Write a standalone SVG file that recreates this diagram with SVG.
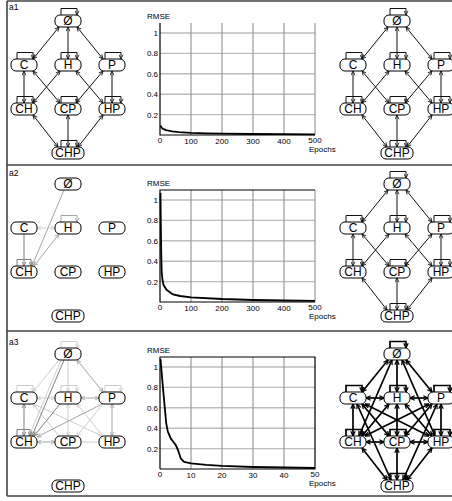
<svg xmlns="http://www.w3.org/2000/svg" width="452" height="501" viewBox="0 0 452 501">
<style>
.fr{fill:none;stroke:#444;stroke-width:1.6}
path.e{fill:none;stroke-width:1}
.k1,.k2{stroke:#111;marker-end:url(#mk)} .k2{marker-start:url(#mk)}
path.K1,path.K2{stroke:#000;stroke-width:1.7;marker-end:url(#mK)} .K2{marker-start:url(#mK)}
.a1,.a2{stroke:#808080;marker-end:url(#ma)} .a2{marker-start:url(#ma)}
.b1,.b2{stroke:#a4a4a4;marker-end:url(#mb)} .b2{marker-start:url(#mb)}
.c0,.c1,.c2{stroke:#cdcdcd} .c1,.c2{marker-end:url(#mc)} .c2{marker-start:url(#mc)}
.n rect{fill:#fff;stroke:#000;stroke-width:1}
.n text{font-family:"Liberation Sans",Arial,sans-serif;font-size:12px;text-anchor:middle;fill:#000}
.lbl{font-family:"Liberation Sans",Arial,sans-serif;font-size:8.5px;fill:#000}
.t{font-family:"Liberation Sans",Arial,sans-serif;font-size:8px;fill:#000}
.te{text-anchor:end}.tm{text-anchor:middle}
.gh{fill:none;stroke:#bdbdbd;stroke-width:1.4}
.gv{fill:none;stroke:#9a9a9a;stroke-width:1.2}
.ax{fill:none;stroke:#000;stroke-width:1.2}
.cv{fill:none;stroke:#000;stroke-width:1.8;stroke-linejoin:round}
</style>
<defs>
<marker id="mk" viewBox="0 0 10 10" refX="9.5" refY="5" markerWidth="5" markerHeight="5" markerUnits="userSpaceOnUse" orient="auto-start-reverse"><path d="M1,1 L9.5,5 L1,9" fill="none" stroke="#111" stroke-width="1.7"/></marker>
<marker id="mK" viewBox="0 0 10 10" refX="9.5" refY="5" markerWidth="5.5" markerHeight="5.5" markerUnits="userSpaceOnUse" orient="auto-start-reverse"><path d="M1,1 L9.5,5 L1,9" fill="none" stroke="#000" stroke-width="2.2"/></marker>
<marker id="ma" viewBox="0 0 10 10" refX="9.5" refY="5" markerWidth="5" markerHeight="5" markerUnits="userSpaceOnUse" orient="auto-start-reverse"><path d="M1,1 L9.5,5 L1,9" fill="none" stroke="#808080" stroke-width="1.7"/></marker>
<marker id="mb" viewBox="0 0 10 10" refX="9.5" refY="5" markerWidth="5" markerHeight="5" markerUnits="userSpaceOnUse" orient="auto-start-reverse"><path d="M1,1 L9.5,5 L1,9" fill="none" stroke="#a4a4a4" stroke-width="1.7"/></marker>
<marker id="mc" viewBox="0 0 10 10" refX="9.5" refY="5" markerWidth="5" markerHeight="5" markerUnits="userSpaceOnUse" orient="auto-start-reverse"><path d="M1,1 L9.5,5 L1,9" fill="none" stroke="#cdcdcd" stroke-width="1.7"/></marker>
</defs>
<rect width="452" height="501" fill="#fff"/>
<g id="frame">
<path class="fr" d="M7,1 H452 M7,165 H452 M7,331 H452 M7,496 H452 M7,1 V496"/>
</g>
<text class="lbl" x="9" y="10">a1</text>
<text class="lbl" x="9" y="176">a2</text>
<text class="lbl" x="9" y="345">a3</text>

<!-- ===== a1 left ===== -->
<g id="g1l" transform="translate(68,21)">
<g id="g1l-edges">
<path class="e k2" d="M-9,6 L-35,38"/><path class="e k2" d="M0,6 L0,38"/><path class="e k2" d="M9,6 L35,38"/>
<path class="e k2" d="M-44,50 L-44,82"/><path class="e k2" d="M-35,50 L-8,82"/><path class="e k2" d="M-8,50 L-35,82"/>
<path class="e k2" d="M8,50 L35,82"/><path class="e k2" d="M35,50 L8,82"/><path class="e k2" d="M44,50 L44,82"/>
<path class="e k2" d="M-35,94 L-10,126"/><path class="e k2" d="M0,94 L0,126"/><path class="e k2" d="M35,94 L10,126"/>
<path class="e k1" d="M-7,-6 V-12.5 H9 V-6"/><path class="e k1" d="M-51,38 V31.5 H-35 V38"/><path class="e k1" d="M-7,38 V31.5 H9 V38"/><path class="e k1" d="M37,38 V31.5 H53 V38"/>
<path class="e k1" d="M-51,82 V75.5 H-35 V82"/><path class="e k1" d="M-7,82 V75.5 H9 V82"/><path class="e k1" d="M37,82 V75.5 H53 V82"/><path class="e k1" d="M-7,126 V119.5 H9 V126"/>
</g>
<g id="g1l-0" class="n"><rect x="-13" y="-6" width="26" height="12" rx="5"/><text x="0" y="4.3">Ø</text></g>
<g id="g1l-C" class="n"><rect x="-57" y="38" width="26" height="12" rx="5"/><text x="-44" y="48.3">C</text></g>
<g id="g1l-H" class="n"><rect x="-13" y="38" width="26" height="12" rx="5"/><text x="0" y="48.3">H</text></g>
<g id="g1l-P" class="n"><rect x="31" y="38" width="26" height="12" rx="5"/><text x="44" y="48.3">P</text></g>
<g id="g1l-CH" class="n"><rect x="-57" y="82" width="26" height="12" rx="5"/><text x="-44" y="92.3">CH</text></g>
<g id="g1l-CP" class="n"><rect x="-13" y="82" width="26" height="12" rx="5"/><text x="0" y="92.3">CP</text></g>
<g id="g1l-HP" class="n"><rect x="31" y="82" width="26" height="12" rx="5"/><text x="44" y="92.3">HP</text></g>
<g id="g1l-CHP" class="n"><rect x="-16" y="126" width="32" height="12" rx="5"/><text x="0" y="136.3">CHP</text></g>
</g>

<!-- ===== a1 right ===== -->
<g id="g1r" transform="translate(397,21)">
<g id="g1r-edges">
<path class="e k2" d="M-9,6 L-35,38"/><path class="e k2" d="M0,6 L0,38"/><path class="e k2" d="M9,6 L35,38"/>
<path class="e k2" d="M-44,50 L-44,82"/><path class="e k2" d="M-35,50 L-8,82"/><path class="e k2" d="M-8,50 L-35,82"/>
<path class="e k2" d="M8,50 L35,82"/><path class="e k2" d="M35,50 L8,82"/><path class="e k2" d="M44,50 L44,82"/>
<path class="e k2" d="M-35,94 L-10,126"/><path class="e k2" d="M0,94 L0,126"/><path class="e k2" d="M35,94 L10,126"/>
<path class="e k1" d="M-7,-6 V-12.5 H9 V-6"/><path class="e k1" d="M-51,38 V31.5 H-35 V38"/><path class="e k1" d="M-7,38 V31.5 H9 V38"/><path class="e k1" d="M37,38 V31.5 H53 V38"/>
<path class="e k1" d="M-51,82 V75.5 H-35 V82"/><path class="e k1" d="M-7,82 V75.5 H9 V82"/><path class="e k1" d="M37,82 V75.5 H53 V82"/><path class="e k1" d="M-7,126 V119.5 H9 V126"/>
</g>
<g id="g1r-0" class="n"><rect x="-13" y="-6" width="26" height="12" rx="5"/><text x="0" y="4.3">Ø</text></g>
<g id="g1r-C" class="n"><rect x="-57" y="38" width="26" height="12" rx="5"/><text x="-44" y="48.3">C</text></g>
<g id="g1r-H" class="n"><rect x="-13" y="38" width="26" height="12" rx="5"/><text x="0" y="48.3">H</text></g>
<g id="g1r-P" class="n"><rect x="31" y="38" width="26" height="12" rx="5"/><text x="44" y="48.3">P</text></g>
<g id="g1r-CH" class="n"><rect x="-57" y="82" width="26" height="12" rx="5"/><text x="-44" y="92.3">CH</text></g>
<g id="g1r-CP" class="n"><rect x="-13" y="82" width="26" height="12" rx="5"/><text x="0" y="92.3">CP</text></g>
<g id="g1r-HP" class="n"><rect x="31" y="82" width="26" height="12" rx="5"/><text x="44" y="92.3">HP</text></g>
<g id="g1r-CHP" class="n"><rect x="-16" y="126" width="32" height="12" rx="5"/><text x="0" y="136.3">CHP</text></g>
</g>

<!-- ===== a2 left ===== -->
<g id="g2l" transform="translate(68,184)">
<g id="g2l-edges">
<path class="e b1" d="M-4,6 L-36,82"/>
<path class="e a1" d="M-44,50 L-44,82"/>
<path class="e c2" d="M-31,44 L-13,44"/>
<path class="e b2" d="M-9,50 L-34,82"/>
<path class="e b1" d="M-7,38 V31.5 H9 V38"/>
<path class="e a1" d="M-51,82 V75.5 H-37 V82"/>
</g>
<g id="g2l-0" class="n"><rect x="-13" y="-6" width="26" height="12" rx="5"/><text x="0" y="4.3">Ø</text></g>
<g id="g2l-C" class="n"><rect x="-57" y="38" width="26" height="12" rx="5"/><text x="-44" y="48.3">C</text></g>
<g id="g2l-H" class="n"><rect x="-13" y="38" width="26" height="12" rx="5"/><text x="0" y="48.3">H</text></g>
<g id="g2l-P" class="n"><rect x="31" y="38" width="26" height="12" rx="5"/><text x="44" y="48.3">P</text></g>
<g id="g2l-CH" class="n"><rect x="-57" y="82" width="26" height="12" rx="5"/><text x="-44" y="92.3">CH</text></g>
<g id="g2l-CP" class="n"><rect x="-13" y="82" width="26" height="12" rx="5"/><text x="0" y="92.3">CP</text></g>
<g id="g2l-HP" class="n"><rect x="31" y="82" width="26" height="12" rx="5"/><text x="44" y="92.3">HP</text></g>
<g id="g2l-CHP" class="n"><rect x="-16" y="126" width="32" height="12" rx="5"/><text x="0" y="136.3">CHP</text></g>
</g>

<!-- ===== a2 right ===== -->
<g id="g2r" transform="translate(397,184)">
<g id="g2r-edges">
<path class="e k2" d="M-9,6 L-35,38"/><path class="e k2" d="M0,6 L0,38"/><path class="e k2" d="M9,6 L35,38"/>
<path class="e k2" d="M-44,50 L-44,82"/><path class="e k2" d="M-35,50 L-8,82"/><path class="e k2" d="M-8,50 L-35,82"/>
<path class="e k2" d="M8,50 L35,82"/><path class="e k2" d="M35,50 L8,82"/><path class="e k2" d="M44,50 L44,82"/>
<path class="e k2" d="M-35,94 L-10,126"/><path class="e k2" d="M0,94 L0,126"/><path class="e k2" d="M35,94 L10,126"/>
<path class="e k1" d="M-7,-6 V-12.5 H9 V-6"/><path class="e k1" d="M-51,38 V31.5 H-35 V38"/><path class="e k1" d="M-7,38 V31.5 H9 V38"/><path class="e k1" d="M37,38 V31.5 H53 V38"/>
<path class="e k1" d="M-51,82 V75.5 H-35 V82"/><path class="e k1" d="M-7,82 V75.5 H9 V82"/><path class="e k1" d="M37,82 V75.5 H53 V82"/><path class="e k1" d="M-7,126 V119.5 H9 V126"/>
</g>
<g id="g2r-0" class="n"><rect x="-13" y="-6" width="26" height="12" rx="5"/><text x="0" y="4.3">Ø</text></g>
<g id="g2r-C" class="n"><rect x="-57" y="38" width="26" height="12" rx="5"/><text x="-44" y="48.3">C</text></g>
<g id="g2r-H" class="n"><rect x="-13" y="38" width="26" height="12" rx="5"/><text x="0" y="48.3">H</text></g>
<g id="g2r-P" class="n"><rect x="31" y="38" width="26" height="12" rx="5"/><text x="44" y="48.3">P</text></g>
<g id="g2r-CH" class="n"><rect x="-57" y="82" width="26" height="12" rx="5"/><text x="-44" y="92.3">CH</text></g>
<g id="g2r-CP" class="n"><rect x="-13" y="82" width="26" height="12" rx="5"/><text x="0" y="92.3">CP</text></g>
<g id="g2r-HP" class="n"><rect x="31" y="82" width="26" height="12" rx="5"/><text x="44" y="92.3">HP</text></g>
<g id="g2r-CHP" class="n"><rect x="-16" y="126" width="32" height="12" rx="5"/><text x="0" y="136.3">CHP</text></g>
</g>

<!-- ===== a3 left ===== -->
<g id="g3l" transform="translate(68,354)">
<g id="g3l-edges">
<path class="e c1" d="M-7,-6 V-12.5 H9 V-6"/><path class="e c1" d="M-51,38 V31.5 H-35 V38"/><path class="e c1" d="M-7,38 V31.5 H9 V38"/><path class="e c1" d="M37,38 V31.5 H53 V38"/>
<path class="e c1" d="M-9,6 L-35,38"/>
<path class="e c1" d="M0,6 L0,38"/>
<path class="e c1" d="M-7,6 L-39,82"/>
<path class="e c2" d="M-31,44 L-13,44"/>
<path class="e c2" d="M0,50 L0,82"/>
<path class="e c1" d="M-34,50 L34,82"/>
<path class="e c1" d="M35,82 L9,50"/>
<path class="e c1" d="M35,50 L9,82"/>
<path class="e c1" d="M-9,82 L-35,50"/>
<path class="e c0" d="M13,88 L31,88"/>
<path class="e b2" d="M9,6 L35,38"/>
<path class="e b2" d="M13,44 L31,44"/>
<path class="e b1" d="M34,50 L-31,83"/>
<path class="e b2" d="M44,50 L44,82"/>
<path class="e b2" d="M-31,88 L-13,88"/>
<path class="e a2" d="M-44,50 L-44,82"/>
<path class="e a1" d="M-4,6 L-36,82"/>
<path class="e a1" d="M-8,50 L-34,82"/>
<path class="e a1" d="M-51,82 V75.5 H-38 V82"/>
</g>
<g id="g3l-0" class="n"><rect x="-13" y="-6" width="26" height="12" rx="5"/><text x="0" y="4.3">Ø</text></g>
<g id="g3l-C" class="n"><rect x="-57" y="38" width="26" height="12" rx="5"/><text x="-44" y="48.3">C</text></g>
<g id="g3l-H" class="n"><rect x="-13" y="38" width="26" height="12" rx="5"/><text x="0" y="48.3">H</text></g>
<g id="g3l-P" class="n"><rect x="31" y="38" width="26" height="12" rx="5"/><text x="44" y="48.3">P</text></g>
<g id="g3l-CH" class="n"><rect x="-57" y="82" width="26" height="12" rx="5"/><text x="-44" y="92.3">CH</text></g>
<g id="g3l-CP" class="n"><rect x="-13" y="82" width="26" height="12" rx="5"/><text x="0" y="92.3">CP</text></g>
<g id="g3l-HP" class="n"><rect x="31" y="82" width="26" height="12" rx="5"/><text x="44" y="92.3">HP</text></g>
<g id="g3l-CHP" class="n"><rect x="-16" y="126" width="32" height="12" rx="5"/><text x="0" y="136.3">CHP</text></g>
</g>

<!-- ===== a3 right ===== -->
<g id="g3r" transform="translate(397,354)">
<g id="g3r-edges">
<path class="e K2" d="M-9,6 L-35,38"/><path class="e K2" d="M0,6 L0,38"/><path class="e K2" d="M9,6 L35,38"/>
<path class="e K2" d="M-5,6 L-38,82"/><path class="e K2" d="M5,6 L38,82"/>
<path class="e K2" d="M-31,44 L-13,44"/><path class="e K2" d="M13,44 L31,44"/>
<path class="e K2" d="M-44,50 L-44,82"/><path class="e K2" d="M-35,50 L-8,82"/><path class="e K2" d="M-32,50 L32,82"/>
<path class="e K2" d="M-8,50 L-35,82"/><path class="e K2" d="M0,50 L0,82"/><path class="e K2" d="M8,50 L35,82"/>
<path class="e K2" d="M32,50 L-32,82"/><path class="e K2" d="M35,50 L8,82"/><path class="e K2" d="M44,50 L44,82"/>
<path class="e K2" d="M-31,88 L-13,88"/><path class="e K2" d="M13,88 L31,88"/>
<path class="e K2" d="M-10,126 L-35,94"/><path class="e K2" d="M0,126 L0,94"/><path class="e K2" d="M10,126 L35,94"/>
<path class="e K2" d="M-6,126 L-40,50"/><path class="e K2" d="M6,126 L40,50"/>
<path class="e K1" d="M-7,-6 V-12.5 H9 V-6"/><path class="e K1" d="M-51,38 V31.5 H-35 V38"/><path class="e K1" d="M-7,38 V31.5 H9 V38"/><path class="e K1" d="M37,38 V31.5 H53 V38"/>
<path class="e K1" d="M-51,82 V75.5 H-35 V82"/><path class="e K1" d="M-7,82 V75.5 H9 V82"/><path class="e K1" d="M37,82 V75.5 H53 V82"/><path class="e K1" d="M-7,126 V119.5 H9 V126"/>
</g>
<g id="g3r-0" class="n"><rect x="-13" y="-6" width="26" height="12" rx="5"/><text x="0" y="4.3">Ø</text></g>
<g id="g3r-C" class="n"><rect x="-57" y="38" width="26" height="12" rx="5"/><text x="-44" y="48.3">C</text></g>
<g id="g3r-H" class="n"><rect x="-13" y="38" width="26" height="12" rx="5"/><text x="0" y="48.3">H</text></g>
<g id="g3r-P" class="n"><rect x="31" y="38" width="26" height="12" rx="5"/><text x="44" y="48.3">P</text></g>
<g id="g3r-CH" class="n"><rect x="-57" y="82" width="26" height="12" rx="5"/><text x="-44" y="92.3">CH</text></g>
<g id="g3r-CP" class="n"><rect x="-13" y="82" width="26" height="12" rx="5"/><text x="0" y="92.3">CP</text></g>
<g id="g3r-HP" class="n"><rect x="31" y="82" width="26" height="12" rx="5"/><text x="44" y="92.3">HP</text></g>
<g id="g3r-CHP" class="n"><rect x="-16" y="126" width="32" height="12" rx="5"/><text x="0" y="136.3">CHP</text></g>
</g>

<!-- ===== plots ===== -->
<g id="plot1" transform="translate(160,135)">
<path class="gh" d="M0,-20.4H155M0,-40.8H155M0,-61.2H155M0,-81.6H155M0,-102H155"/>
<path class="gv" d="M31,0V-112M62,0V-112M93,0V-112M124,0V-112M155,0V-112"/>
<path class="ax" d="M0,-112V0H155"/>
<polyline class="cv" points="0.5,-9.5 1.5,-7.4 3,-6.2 6,-4.9 12,-3.6 19,-2.9 31,-2.1 46,-1.6 62,-1.3 93,-1 124,-0.8 155,-0.7"/>
<text class="t" x="-13" y="-116">RMSE</text>
<text class="t te" x="-2" y="-99">1</text><text class="t te" x="-2" y="-78.6">0.8</text><text class="t te" x="-2" y="-58.2">0.6</text><text class="t te" x="-2" y="-37.8">0.4</text><text class="t te" x="-2" y="-17.4">0.2</text>
<text class="t tm" x="0" y="8">0</text><text class="t tm" x="31" y="9">100</text><text class="t tm" x="62" y="9">200</text><text class="t tm" x="93" y="9">300</text><text class="t tm" x="124" y="9">400</text><text class="t tm" x="155" y="8">500</text>
<text class="t" x="149" y="16.5">Epochs</text>
</g>

<g id="plot2" transform="translate(160,302)">
<path class="gh" d="M0,-20.4H155M0,-40.8H155M0,-61.2H155M0,-81.6H155M0,-102H155"/>
<path class="gv" d="M31,0V-112M62,0V-112M93,0V-112M124,0V-112M155,0V-112"/>
<path class="ax" d="M155,-112H0V0H155"/>
<polyline class="cv" points="0.5,-109 0.8,-80 1.2,-50 1.7,-30 2.5,-22 3.5,-17 6.5,-12.2 13,-7.6 20,-6 31,-4.7 62,-3 93,-2 124,-1.5 155,-1.2"/>
<text class="t" x="-13" y="-116">RMSE</text>
<text class="t te" x="-2" y="-99">1</text><text class="t te" x="-2" y="-78.6">0.8</text><text class="t te" x="-2" y="-58.2">0.6</text><text class="t te" x="-2" y="-37.8">0.4</text><text class="t te" x="-2" y="-17.4">0.2</text>
<text class="t tm" x="0" y="8">0</text><text class="t tm" x="31" y="9">100</text><text class="t tm" x="62" y="9">200</text><text class="t tm" x="93" y="9">300</text><text class="t tm" x="124" y="9">400</text><text class="t tm" x="155" y="8">500</text>
<text class="t" x="149" y="16.5">Epochs</text>
</g>

<g id="plot3" transform="translate(160,469)">
<path class="gh" d="M0,-20.4H155M0,-40.8H155M0,-61.2H155M0,-81.6H155M0,-102H155"/>
<path class="gv" d="M31,0V-112M62,0V-112M93,0V-112M124,0V-112"/>
<path class="ax" d="M0,0V-112H155V0H0"/>
<polyline class="cv" points="0.5,-110 3.1,-79.6 6.2,-45.9 7.75,-37.7 10.7,-30.6 15.7,-24 18,-19 20.7,-10.7 24,-7.1 31,-5.6 46.5,-4.1 62,-3.1 93,-2 124,-1.5 155,-1"/>
<text class="t" x="-13" y="-116">RMSE</text>
<text class="t te" x="-2" y="-99">1</text><text class="t te" x="-2" y="-78.6">0.8</text><text class="t te" x="-2" y="-58.2">0.6</text><text class="t te" x="-2" y="-37.8">0.4</text><text class="t te" x="-2" y="-17.4">0.2</text>
<text class="t tm" x="0" y="8">0</text><text class="t tm" x="31" y="9">10</text><text class="t tm" x="62" y="9">20</text><text class="t tm" x="93" y="9">30</text><text class="t tm" x="124" y="9">40</text><text class="t tm" x="155" y="8">50</text>
<text class="t" x="149" y="17">Epochs</text>
</g>
</svg>
